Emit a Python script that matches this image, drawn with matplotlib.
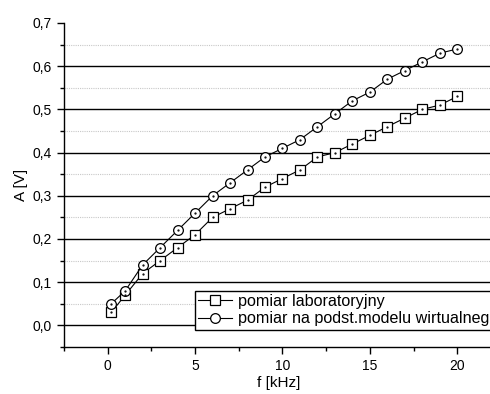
import matplotlib
matplotlib.use("Agg")
import matplotlib.pyplot as plt
from matplotlib.ticker import MultipleLocator, FuncFormatter

plt.rcParams['font.family'] = ['Liberation Sans', 'DejaVu Sans']

f_khz = [0.2, 1, 2, 3, 4, 5, 6, 7, 8, 9, 10, 11, 12, 13, 14, 15, 16, 17, 18, 19, 20]
a_lab = [0.03, 0.07, 0.12, 0.15, 0.18, 0.21, 0.25, 0.27, 0.29, 0.32, 0.34,
         0.36, 0.39, 0.40, 0.42, 0.44, 0.46, 0.48, 0.50, 0.51, 0.53]
a_virt = [0.05, 0.08, 0.14, 0.18, 0.22, 0.26, 0.30, 0.33, 0.36, 0.39, 0.41,
          0.43, 0.46, 0.49, 0.52, 0.54, 0.57, 0.59, 0.61, 0.63, 0.64]
labels = ["pomiar laboratoryjny", "pomiar na podst.modelu wirtualnego"]

fig = plt.figure(figsize=(4.9, 3.94), dpi=100)
W, H = 490, 394
left, right, top, bottom = 64, 494, 23, 347
ax = fig.add_axes([left / W, 1 - bottom / H, (right - left) / W, (bottom - top) / H])

ax.set_xlim(-2.5, 22.1)
ax.set_ylim(-0.05, 0.7)

# grid
for y in [0.0, 0.1, 0.2, 0.3, 0.4, 0.5, 0.6]:
    ax.axhline(y, color='black', lw=1.0, zorder=1)
for y in [0.05, 0.15, 0.25, 0.35, 0.45, 0.55, 0.65]:
    ax.axhline(y, color='#c8c8c8', lw=0.8, ls=(0, (1, 1)), zorder=1)

ms = 6.5
ax.plot(f_khz, a_lab, color='black', lw=0.8, marker='s', ms=ms, mfc='white',
        mec='black', mew=0.9, label=labels[0], zorder=3)
ax.plot(f_khz, a_virt, color='black', lw=0.8, marker='o', ms=ms + 0.5, mfc='white',
        mec='black', mew=0.9, label=labels[1], zorder=3)
ax.plot(f_khz, a_lab, ls='none', marker='.', ms=1.2, color='black', zorder=4)
ax.plot(f_khz, a_virt, ls='none', marker='.', ms=1.2, color='black', zorder=4)

for s in ['top', 'right']:
    ax.spines[s].set_visible(False)
ax.spines['left'].set_linewidth(1.0)
ax.spines['bottom'].set_linewidth(1.0)

ax.xaxis.set_major_locator(MultipleLocator(5))
ax.xaxis.set_minor_locator(MultipleLocator(2.5))
ax.yaxis.set_major_locator(MultipleLocator(0.1))
ax.yaxis.set_minor_locator(MultipleLocator(0.05))
ax.yaxis.set_major_formatter(FuncFormatter(lambda v, p: f"{v:.1f}".replace('.', ',').replace('-0,0', '0,0')))
ax.xaxis.set_major_formatter(FuncFormatter(lambda v, p: f"{v:g}"))
ax.tick_params(which='major', direction='out', length=5, width=1, labelsize=10, pad=4)
ax.tick_params(which='minor', direction='out', length=3, width=1)

ax.set_xlabel("f [kHz]", fontsize=11, labelpad=2)
ax.set_ylabel("A [V]", fontsize=11, labelpad=3)

leg = ax.legend(loc='lower left', bbox_to_anchor=(5.0, -0.01), bbox_transform=ax.transData,
                frameon=True, fancybox=False, edgecolor='black', framealpha=1,
                fontsize=11.6, handlelength=2.1, handletextpad=0.35, borderpad=0.2,
                labelspacing=0.15, borderaxespad=0)
leg.get_frame().set_linewidth(1.0)

fig.savefig("out.png", dpi=100)
